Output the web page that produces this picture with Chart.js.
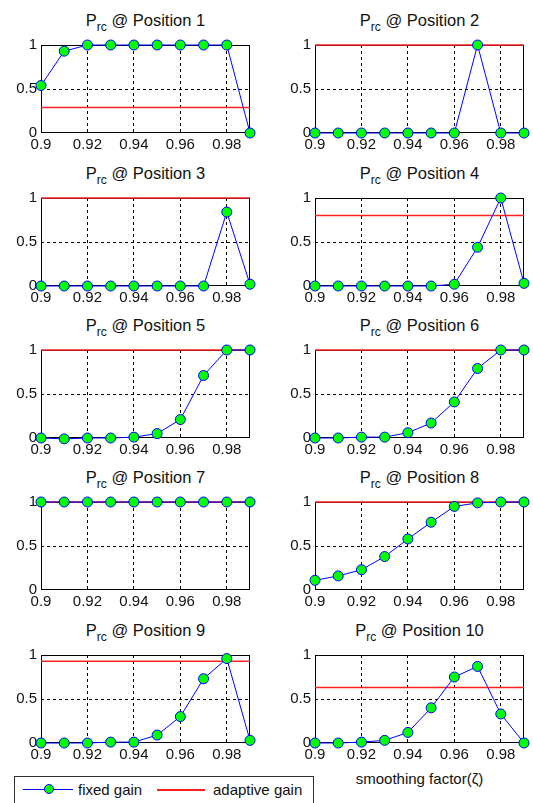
<!DOCTYPE html>
<html>
<head>
<meta charset="utf-8">
<script src="https://cdn.jsdelivr.net/npm/chart.js@4"></script>
<style>
body { margin: 0; width: 533px; height: 803px; overflow: hidden; background: #fff; position: relative;
       font-family: "Liberation Sans", Arial, sans-serif; color: #111; }
canvas { position: absolute; }
.title { position: absolute; width: 209px; text-align: center; font-size: 16.5px; line-height: 18px; white-space: nowrap; }
.title span { font-size: 12px; position: relative; top: 5px; }
#xlabel { position: absolute; left: 315px; top: 770px; width: 209px; text-align: center; font-size: 15px; line-height: 18px; }
#legend { position: absolute; left: 14px; top: 776px; width: 298px; height: 40px; border: 1px solid #333; background: #fff; }
#legend div { position: absolute; }
#legend .txt { font-size: 15px; line-height: 18px; top: 4px; }
</style>
</head>
<body>
<div id="xlabel">smoothing factor(ζ)</div>
<div id="legend">
  <div style="left:8px; top:12px; width:50px; height:1px; background:#0000ff"></div>
  <div style="left:29px; top:7px; width:10px; height:10px; border-radius:50%; background:#00ff00; border:1px solid #0000ff; box-sizing:border-box"></div>
  <div class="txt" style="left:63px">fixed gain</div>
  <div style="left:142px; top:12px; width:48px; height:2px; background:#ff2020"></div>
  <div class="txt" style="left:198px">adaptive gain</div>
</div>
<script>
// data
const xValues = [0.9, 0.91, 0.92, 0.93, 0.94, 0.95, 0.96, 0.97, 0.98, 0.99];
const xTicks = [0.9, 0.92, 0.94, 0.96, 0.98];
const xTickLabels = ['0.9', '0.92', '0.94', '0.96', '0.98'];
const yTicks = [0, 0.5, 1];
const yTickLabels = ['0', '0.5', '1'];
const positions = [1, 2, 3, 4, 5, 6, 7, 8, 9, 10];

const fixedGain = [
    [0.54, 0.93, 1, 1, 1, 1, 1, 1, 1, 0],
    [0, 0, 0, 0, 0, 0, 0, 1, 0, 0],
    [0, 0, 0, 0, 0, 0, 0, 0, 0.84, 0.02],
    [0, 0, 0, 0, 0, 0, 0.02, 0.44, 1, 0.03],
    [0, -0.01, 0, 0, 0.01, 0.05, 0.21, 0.71, 1, 1],
    [0, 0, 0.01, 0.01, 0.06, 0.17, 0.41, 0.79, 1, 1],
    [1, 1, 1, 1, 1, 1, 1, 1, 1, 1],
    [0.11, 0.16, 0.23, 0.38, 0.58, 0.77, 0.95, 0.99, 1, 1],
    [0, 0, 0, 0.01, 0.01, 0.09, 0.30, 0.73, 0.96, 0.03],
    [0, 0, 0.01, 0.03, 0.12, 0.40, 0.75, 0.87, 0.33, 0]
];
const adaptiveGain = [0.29, 1, 1, 0.80, 1, 1, 1, 1, 0.93, 0.63];

// layout
const plotLefts = [41, 315];
const plotTops = [44, 197, 349, 501, 654];
const plotW = 209, plotH = 89;
const padTop = 12, padRight = 8, yAxisW = 40, xAxisH = 22;
const fontFamily = '"Liberation Sans", Arial, sans-serif';

// matlab style box round the plot area
const boxPlugin = {
    id: 'box',
    beforeDatasetsDraw(chart) {
        const a = chart.chartArea;
        const ctx = chart.ctx;
        ctx.save();
        ctx.strokeStyle = '#000';
        ctx.lineWidth = 1;
        ctx.strokeRect(Math.round(a.left) + 0.5, Math.round(a.top) + 0.5, Math.round(a.width) - 1, Math.round(a.height) - 1);
        ctx.restore();
    }
};

positions.forEach((pos, i) => {
    const col = i % 2;
    const row = Math.floor(i / 2);
    const left = plotLefts[col];
    const top = plotTops[row];

    const title = document.createElement('div');
    title.className = 'title';
    title.style.left = left + 'px';
    title.style.top = (top - 33) + 'px';
    title.innerHTML = 'P<span>rc</span> @ Position ' + pos;
    document.body.appendChild(title);

    const canvas = document.createElement('canvas');
    canvas.width = yAxisW + plotW + padRight;
    canvas.height = padTop + plotH + xAxisH;
    canvas.style.left = (left - yAxisW) + 'px';
    canvas.style.top = (top - padTop) + 'px';
    document.body.appendChild(canvas);

    new Chart(canvas, {
        type: 'line',
        data: {
            datasets: [
                {
                    label: 'fixed gain',
                    data: xValues.map((x, j) => ({ x: x, y: fixedGain[i][j] })),
                    borderColor: '#0000ff',
                    borderWidth: 1,
                    pointRadius: 5,
                    pointBackgroundColor: '#00ff00',
                    pointBorderColor: '#0000ff',
                    pointBorderWidth: 1,
                    clip: false
                },
                {
                    label: 'adaptive gain',
                    data: [{ x: xValues[0], y: adaptiveGain[i] }, { x: xValues[xValues.length - 1], y: adaptiveGain[i] }],
                    borderColor: '#ff2020',
                    borderWidth: 1.5,
                    pointRadius: 0,
                    clip: false
                }
            ]
        },
        options: {
            responsive: false,
            animation: false,
            events: [],
            layout: { padding: { top: padTop, right: padRight, left: 0, bottom: 0 } },
            plugins: { legend: { display: false }, tooltip: { enabled: false } },
            scales: {
                x: {
                    type: 'linear',
                    min: xValues[0],
                    max: xValues[xValues.length - 1],
                    afterBuildTicks: s => { s.ticks = xTicks.map(v => ({ value: v })); },
                    afterFit: s => { s.height = xAxisH; },
                    ticks: {
                        callback: (v, k) => xTickLabels[k],
                        color: '#111',
                        font: { size: 15, family: fontFamily },
                        padding: 3,
                        maxRotation: 0,
                        autoSkip: false
                    },
                    grid: {
                        drawTicks: false,
                        lineWidth: 1,
                        color: c => (c.tick && c.tick.value > 0.901) ? '#000' : 'rgba(0,0,0,0)'
                    },
                    border: { display: false, dash: [3, 3] }
                },
                y: {
                    min: 0,
                    max: 1,
                    afterBuildTicks: s => { s.ticks = yTicks.map(v => ({ value: v })); },
                    afterFit: s => { s.width = yAxisW; },
                    ticks: {
                        callback: (v, k) => yTickLabels[k],
                        color: '#111',
                        font: { size: 15, family: fontFamily },
                        padding: 4
                    },
                    grid: {
                        drawTicks: false,
                        lineWidth: 1,
                        color: c => (c.tick && c.tick.value > 0 && c.tick.value < 1) ? '#000' : 'rgba(0,0,0,0)'
                    },
                    border: { display: false, dash: [3, 3] }
                }
            }
        },
        plugins: [boxPlugin]
    });
});
</script>
</body>
</html>
